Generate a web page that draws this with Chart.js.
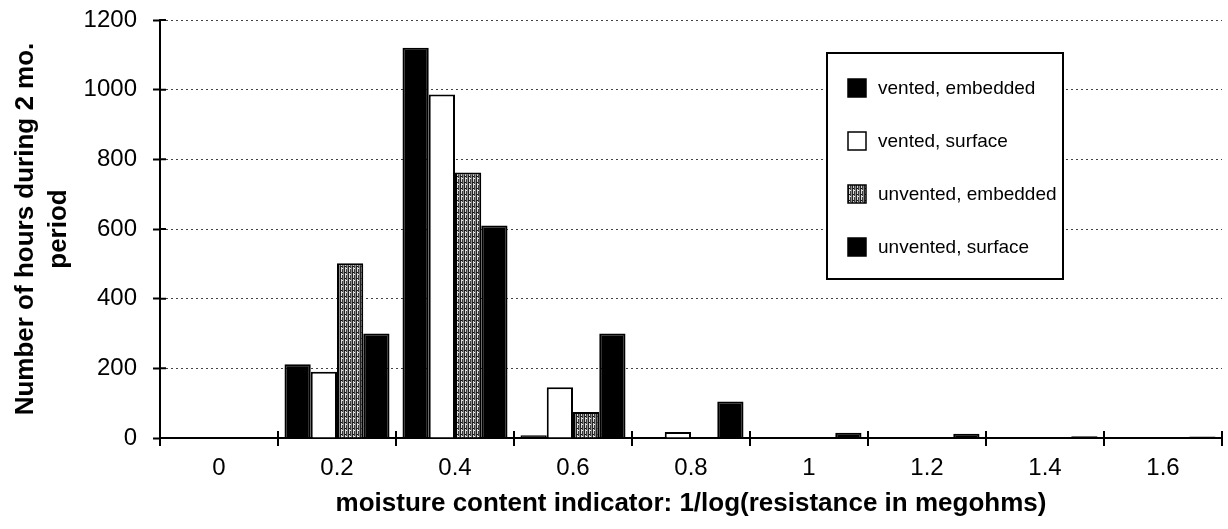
<!DOCTYPE html>
<html>
<head>
<meta charset="utf-8">
<script src="https://cdn.jsdelivr.net/npm/chart.js@4"></script>
<style>
  body { margin: 0; background: #fff; }
</style>
</head>
<body>
<canvas id="chart" width="1228" height="529"></canvas>
<script>
// categories on the x axis (moisture content indicator)
const categories = ["0", "0.2", "0.4", "0.6", "0.8", "1", "1.2", "1.4", "1.6"];

// hours in each bin
const ventedEmbedded = [0, 212, 1120, 8, 0, 0, 0, 0, 0];
const ventedSurface = [0, 190, 986, 146, 17, 2, 0, 2, 2];
const unventedEmbedded = [0, 502, 762, 75, 0, 0, 0, 0, 0];
const unventedSurface = [0, 300, 610, 300, 105, 15, 12, 5, 4];

const seriesNames = ["vented, embedded", "vented, surface", "unvented, embedded", "unvented, surface"];
const yTicks = [0, 200, 400, 600, 800, 1000, 1200];

const FONT = "'Liberation Sans', Arial, Helvetica, sans-serif";

// stipple fill for the grey series
function makePattern() {
  const c = document.createElement("canvas");
  c.width = 4;
  c.height = 6;
  const g = c.getContext("2d");
  const cols = ["#222", "#d8d8d8", "#3c3c3c", "#8c8c8c"];
  cols.forEach((col, i) => {
    g.fillStyle = col;
    g.fillRect(i, 0, 1, 6);
  });
  g.fillStyle = "#111";
  g.fillRect(1, 2, 1, 1);
  g.fillStyle = "#eee";
  g.fillRect(2, 4, 1, 1);
  return g.createPattern(c, "repeat");
}
const greyFill = makePattern();

// legend drawn inside the plot like the original
const boxLegend = {
  id: "boxLegend",
  afterDraw(chart) {
    const ctx = chart.ctx;
    const x0 = 827, y0 = 53, w = 236, h = 226;
    ctx.save();
    ctx.fillStyle = "#fff";
    ctx.fillRect(x0, y0, w, h);
    ctx.lineWidth = 2;
    ctx.strokeStyle = "#000";
    ctx.strokeRect(x0, y0, w, h);
    ctx.font = "19px " + FONT;
    ctx.textBaseline = "middle";
    chart.data.datasets.forEach((ds, i) => {
      const cy = 88 + i * 53;
      ctx.fillStyle = ds.backgroundColor;
      ctx.fillRect(848, cy - 9, 18, 18);
      ctx.lineWidth = 1.5;
      ctx.strokeStyle = "#000";
      ctx.strokeRect(848, cy - 9, 18, 18);
      ctx.fillStyle = "#000";
      ctx.fillText(ds.label, 878, cy + 1);
    });
    ctx.restore();
  }
};

// tick marks that cross the axes
const crossTicks = {
  id: "crossTicks",
  afterDraw(chart) {
    const { ctx, scales: { x, y } } = chart;
    ctx.save();
    ctx.strokeStyle = "#000";
    ctx.lineWidth = 2;
    ctx.beginPath();
    y.ticks.forEach((t) => {
      const py = y.getPixelForValue(t.value);
      ctx.moveTo(x.left, py);
      ctx.lineTo(x.left + 6, py);
    });
    const half = (x.getPixelForValue(1) - x.getPixelForValue(0)) / 2;
    for (let i = 0; i <= categories.length; i++) {
      const px = x.getPixelForValue(0) - half + i * half * 2;
      ctx.moveTo(px, y.bottom);
      ctx.lineTo(px, y.bottom - 7);
    }
    ctx.stroke();
    ctx.restore();
  }
};

const datasets = [
  { label: seriesNames[0], data: ventedEmbedded, backgroundColor: "#000" },
  { label: seriesNames[1], data: ventedSurface, backgroundColor: "#fff" },
  { label: seriesNames[2], data: unventedEmbedded, backgroundColor: greyFill },
  { label: seriesNames[3], data: unventedSurface, backgroundColor: "#000" }
].map((d) => ({
  ...d,
  borderColor: "#000",
  borderWidth: 2,
  categoryPercentage: 0.89,
  barPercentage: 1.0
}));

new Chart(document.getElementById("chart"), {
  type: "bar",
  data: { labels: categories, datasets: datasets },
  options: {
    responsive: false,
    animation: false,
    layout: { padding: { left: 0, top: 20, right: 6, bottom: 0 } },
    plugins: {
      legend: { display: false },
      tooltip: { enabled: false }
    },
    scales: {
      x: {
        grid: {
          offset: true,
          drawOnChartArea: false,
          drawTicks: true,
          tickLength: 8,
          color: "#000",
          lineWidth: 2
        },
        border: { display: true, color: "#000", width: 2 },
        ticks: {
          color: "#000",
          font: { family: FONT, size: 24 },
          padding: 8,
          maxRotation: 0
        },
        title: {
          display: true,
          text: "moisture content indicator: 1/log(resistance in megohms)",
          color: "#000",
          font: { family: FONT, size: 26, weight: "bold" },
          padding: { top: 0, bottom: 10 }
        },
        afterFit(scale) {
          scale.height = 91;
        }
      },
      y: {
        min: 0,
        max: 1200,
        afterBuildTicks(scale) {
          scale.ticks = yTicks.map((v) => ({ value: v }));
        },
        grid: {
          color: "#444",
          lineWidth: 1,
          tickLength: 7,
          tickColor: "#000",
          tickWidth: 2,
          tickBorderDash: []
        },
        border: { display: true, color: "#000", width: 2, dash: [2, 3] },
        ticks: {
          color: "#000",
          font: { family: FONT, size: 24 },
          padding: 16,
          callback: (v) => String(v)
        },
        title: {
          display: true,
          text: ["Number of hours during 2 mo.", "period"],
          color: "#000",
          font: { family: FONT, size: 26, weight: "bold", lineHeight: 1.25 },
          padding: { top: 10, bottom: 0 }
        },
        afterFit(scale) {
          scale.width = 160;
          scale.paddingTop = 0;
          scale.paddingBottom = 0;
        }
      }
    }
  },
  plugins: [boxLegend, crossTicks]
});
</script>
</body>
</html>
